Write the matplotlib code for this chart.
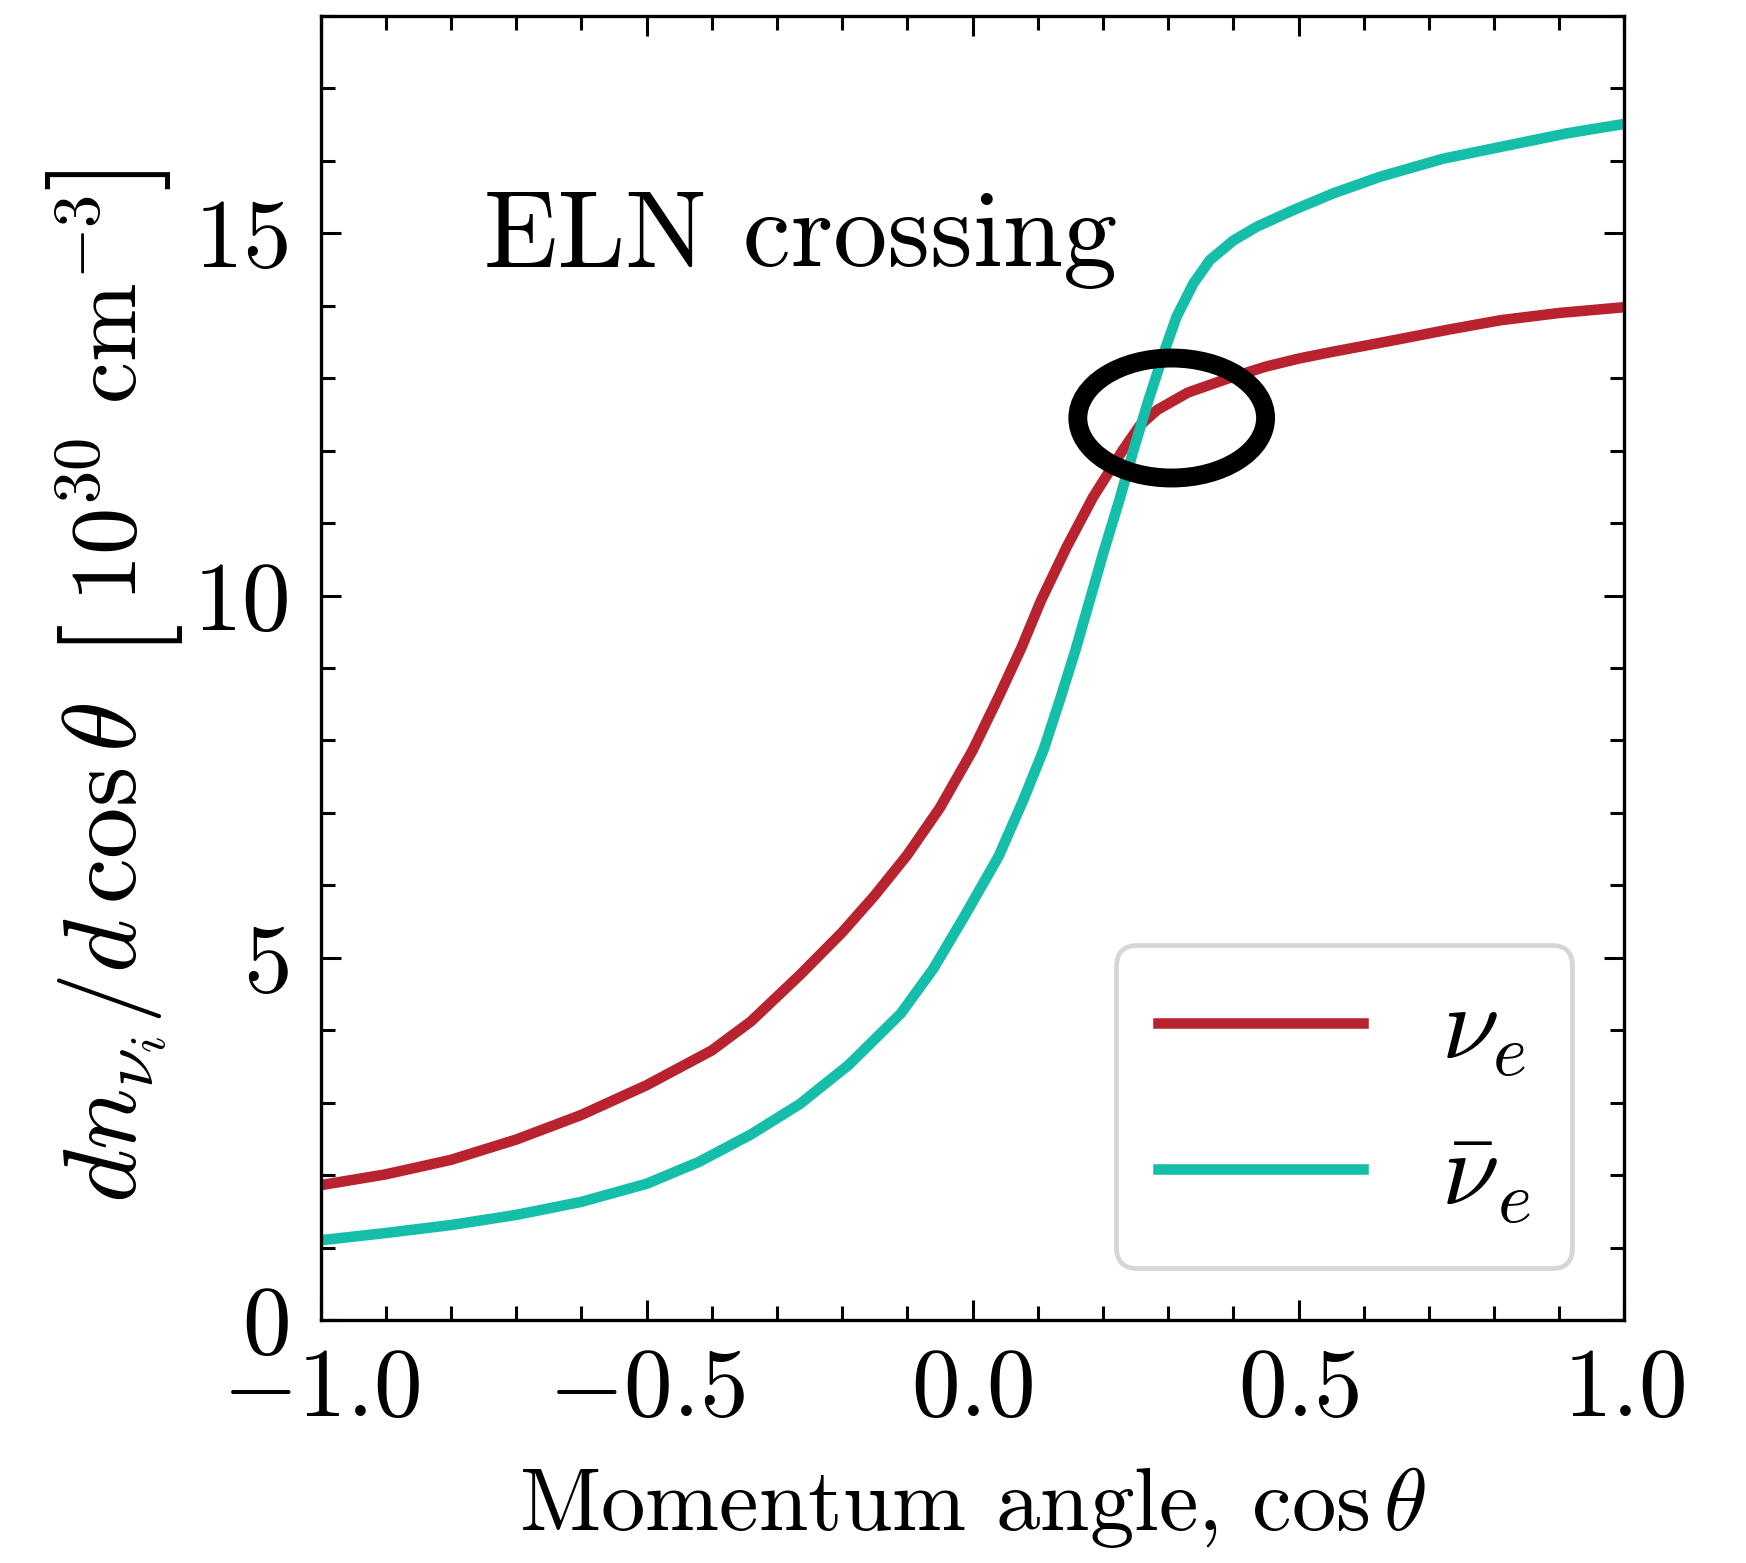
import matplotlib
matplotlib.use("Agg")
import matplotlib.pyplot as plt
from matplotlib.patches import Ellipse
from matplotlib.ticker import MultipleLocator

plt.rcParams.update({
    "font.family": "serif",
    "font.serif": ["cmr10"],
    "mathtext.fontset": "cm",
    "axes.formatter.use_mathtext": True,
    "axes.unicode_minus": True,
})

# Angular distributions (10^30 cm^-3 per unit cos(theta))
nue_cos = [-1.0, -0.9, -0.8, -0.7, -0.6, -0.5, -0.4, -0.34, -0.265, -0.2, -0.15,
           -0.1, -0.05, 0.0, 0.04, 0.075, 0.105, 0.145, 0.185, 0.23, 0.257, 0.283,
           0.33, 0.39, 0.45, 0.5, 0.55, 0.65, 0.73, 0.81, 0.9, 1.0]
nue_dn = [1.86, 2.01, 2.21, 2.49, 2.83, 3.24, 3.72, 4.12, 4.76, 5.35, 5.86,
          6.42, 7.07, 7.86, 8.60, 9.28, 9.93, 10.68, 11.36, 12.00, 12.35, 12.56,
          12.80, 12.99, 13.16, 13.27, 13.36, 13.53, 13.67, 13.80, 13.90, 13.98]

nuebar_cos = [-1.0, -0.9, -0.8, -0.7, -0.6, -0.5, -0.42, -0.34, -0.265, -0.19,
              -0.11, -0.06, -0.01, 0.04, 0.078, 0.109, 0.134, 0.158, 0.18, 0.201,
              0.226, 0.247, 0.27, 0.295, 0.313, 0.339, 0.364, 0.40, 0.436, 0.492,
              0.553, 0.625, 0.722, 0.809, 0.912, 1.0]
nuebar_dn = [1.10, 1.20, 1.31, 1.45, 1.63, 1.88, 2.18, 2.56, 2.98, 3.52,
             4.23, 4.85, 5.61, 6.40, 7.18, 7.87, 8.56, 9.25, 9.94, 10.60,
             11.34, 12.01, 12.70, 13.39, 13.85, 14.31, 14.63, 14.90, 15.09, 15.32,
             15.55, 15.78, 16.03, 16.19, 16.38, 16.51]

series_labels = [r"$\nu_e$", r"$\bar{\nu}_e$"]
series_colors = ["#b8232f", "#15bea9"]

x_ticks = [-1.0, -0.5, 0.0, 0.5, 1.0]
y_ticks = [0, 5, 10, 15]

W, H, DPI = 1746, 1563, 200
fig = plt.figure(figsize=(W / DPI, H / DPI), dpi=DPI)
ax = fig.add_axes([0.1836, 0.1555, 0.7468, 0.8343])

ax.plot(nue_cos, nue_dn, color=series_colors[0], lw=3.8, label=series_labels[0])
ax.plot(nuebar_cos, nuebar_dn, color=series_colors[1], lw=3.8, label=series_labels[1])

# Highlight where the two distributions cross
ax.add_patch(Ellipse((0.3055, 12.45), 0.288, 1.656, fill=False,
                     edgecolor="black", lw=6.8, zorder=5))

ax.text(-0.75, 14.9, "ELN crossing", fontsize=39, va="center", ha="left")

ax.set_xlim(-1, 1)
ax.set_ylim(0, 18)
ax.set_xticks(x_ticks)
ax.set_yticks(y_ticks)
ax.xaxis.set_minor_locator(MultipleLocator(0.1))
ax.yaxis.set_minor_locator(MultipleLocator(1))
ax.tick_params(which="both", direction="in", top=True, right=True, width=1.1)
ax.tick_params(which="major", length=7.2, labelsize=35)
ax.tick_params(axis="x", which="major", pad=10)
ax.tick_params(axis="y", which="major", pad=11.5)
ax.tick_params(which="minor", length=5.2)
for s in ax.spines.values():
    s.set_linewidth(1.2)

ax.set_xlabel(r"Momentum angle, $\cos\theta$", fontsize=32, labelpad=11)

# y-axis label assembled from pieces so the unit brackets can be tall
ylabel_parts = [
    (r"$dn_{\nu_i}/d\,\cos\theta$", 37, 60),
    ("[", 45, 6),
    (r"$10^{30}\ \mathrm{cm}^{-3}$", 34, 6),
    ("]", 45, 0),
]
label_baseline_x = 137      # pixels from the left edge
label_center_y = 884        # pixels from the bottom edge

renderer = fig.canvas.get_renderer()
texts = []
total = 0.0
for s, fs, gap in ylabel_parts:
    t = fig.text(0, 0, s, fontsize=fs, rotation=90, rotation_mode="anchor",
                 ha="left", va="baseline")
    ext = t.get_window_extent(renderer)
    texts.append((t, ext.height, gap))
    total += ext.height + gap
y = label_center_y - total / 2
for t, length, gap in texts:
    t.set_position((label_baseline_x / W, y / H))
    y += length + gap

leg = ax.legend(loc="lower right", fontsize=37.5, handlelength=1.97,
                handletextpad=0.75, labelspacing=0.5, borderaxespad=0.5,
                borderpad=0.4, fancybox=True, framealpha=1)
leg.get_frame().set_edgecolor("#d6d6d6")
leg.get_frame().set_linewidth(1.7)

fig.savefig("out.png", dpi=DPI)
